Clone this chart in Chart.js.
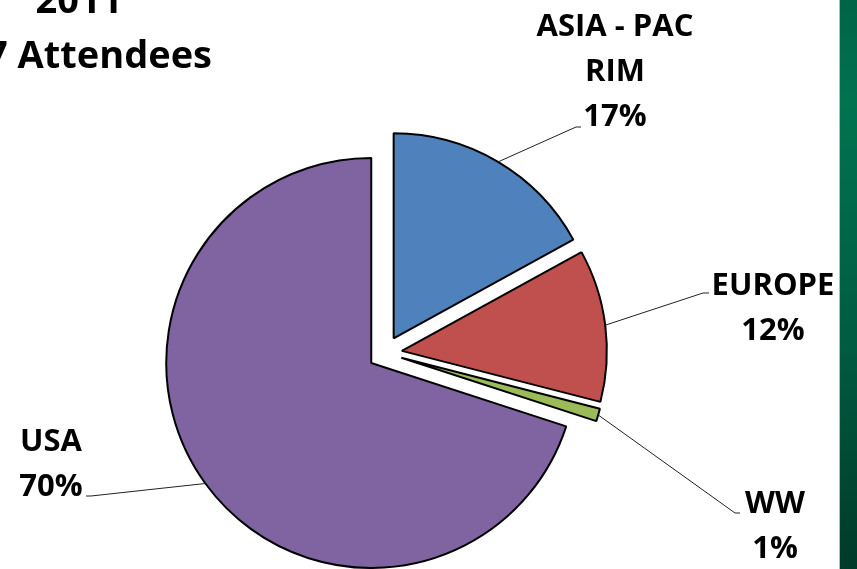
<!DOCTYPE html>
<html>
<head>
<meta charset="utf-8">
<script src="https://cdn.jsdelivr.net/npm/chart.js@4"></script>
<style>
  body { margin: 0; background: #fff; }
  #wrap { position: relative; width: 857px; height: 569px; overflow: hidden; }
  #bar { position: absolute; left: 839px; top: 0; width: 18px; height: 569px;
         border-left: 1px solid #b8b8b8;
         background: linear-gradient(#006447 0%, #00734f 18%, #005c40 60%, #003a28 100%); }
</style>
</head>
<body>
<div id="wrap">
  <canvas id="pie" width="857" height="569"></canvas>
  <div id="bar"></div>
</div>
<script>
const categories = ['ASIA - PAC RIM', 'EUROPE', 'WW', 'USA'];
const labelLines = [['ASIA - PAC', 'RIM'], ['EUROPE'], ['WW'], ['USA']];
const shares = [17, 12, 1, 70];
const colors = ['#4f81bd', '#c0504d', '#9bbb59', '#8064a2'];
const titleLines = ['2011', '7 Attendees'];

// where each label sits: text centre x, first baseline, elbow and tail of leader
const labelPos = [
  { cx: 615, y: 36, elbow: [576, 127], tail: [581, 127] },
  { cx: 773, y: 295, elbow: [703, 293], tail: [709, 293] },
  { cx: 775, y: 513, elbow: [735, 513], tail: [740, 513] },
  { cx: 51, y: 451, elbow: [91, 496], tail: [86, 496] }
];

// chart.js moves each arc by offset / 4
const SLICE_OFFSET = 68;
const LINE_H = 45;

// chart.js also grows an offset arc by offset/4 * (1 - sin(angle)) and trims its
// angle a little; undo both so the exploded slices look like the excel ones
const evenRadius = {
  id: 'evenRadius',
  beforeDatasetsDraw(chart) {
    const meta = chart.getDatasetMeta(0);
    const base = meta.controller.outerRadius;
    meta.data.forEach(arc => {
      if (arc._fixed && arc._fixed === arc.startAngle) return;
      const off = arc.options.offset / 4;
      const radOff = off * (1 - Math.sin(Math.min(Math.PI, arc.circumference)));
      const trim = radOff / Math.PI / base / 2;
      arc.outerRadius = base - radOff;
      arc.startAngle -= trim;
      arc.endAngle += trim;
      arc._fixed = arc.startAngle;
    });
  }
};

const labelPlugin = {
  id: 'pieLabels',
  afterDraw(chart) {
    const ctx = chart.ctx;
    const meta = chart.getDatasetMeta(0);
    const base = meta.controller.outerRadius;
    ctx.save();
    ctx.font = 'bold 31px "Open Sans"';
    ctx.textAlign = 'center';
    ctx.textBaseline = 'alphabetic';
    meta.data.forEach((arc, i) => {
      const mid = (arc.startAngle + arc.endAngle) / 2;
      const r = base + arc.options.offset / 4;
      const pos = labelPos[i];
      ctx.strokeStyle = '#222';
      ctx.lineWidth = 1;
      ctx.beginPath();
      ctx.moveTo(arc.x + Math.cos(mid) * r, arc.y + Math.sin(mid) * r);
      ctx.lineTo(pos.elbow[0], pos.elbow[1]);
      ctx.lineTo(pos.tail[0], pos.tail[1]);
      ctx.stroke();
      ctx.fillStyle = '#000';
      const lines = labelLines[i].concat([shares[i] + '%']);
      lines.forEach((t, k) => ctx.fillText(t, pos.cx, pos.y + k * LINE_H));
    });
    // title, partly cut off at the left edge
    ctx.font = 'bold 38px "Open Sans"';
    ctx.textAlign = 'center';
    ctx.fillText(titleLines[0], 79, 13);
    ctx.textAlign = 'right';
    ctx.fillText(titleLines[1], 212, 68);
    ctx.restore();
  }
};

new Chart(document.getElementById('pie').getContext('2d'), {
  type: 'pie',
  data: {
    labels: categories,
    datasets: [{
      data: shares,
      backgroundColor: colors,
      borderColor: '#000',
      borderWidth: 2,
      offset: SLICE_OFFSET,
      hoverOffset: 0
    }]
  },
  options: {
    responsive: false,
    devicePixelRatio: 1,
    animation: false,
    radius: 205,
    layout: { padding: { left: 0, right: 87, top: 137, bottom: 0 } },
    plugins: {
      legend: { display: false },
      tooltip: { enabled: false }
    }
  },
  plugins: [evenRadius, labelPlugin]
});
</script>
</body>
</html>
